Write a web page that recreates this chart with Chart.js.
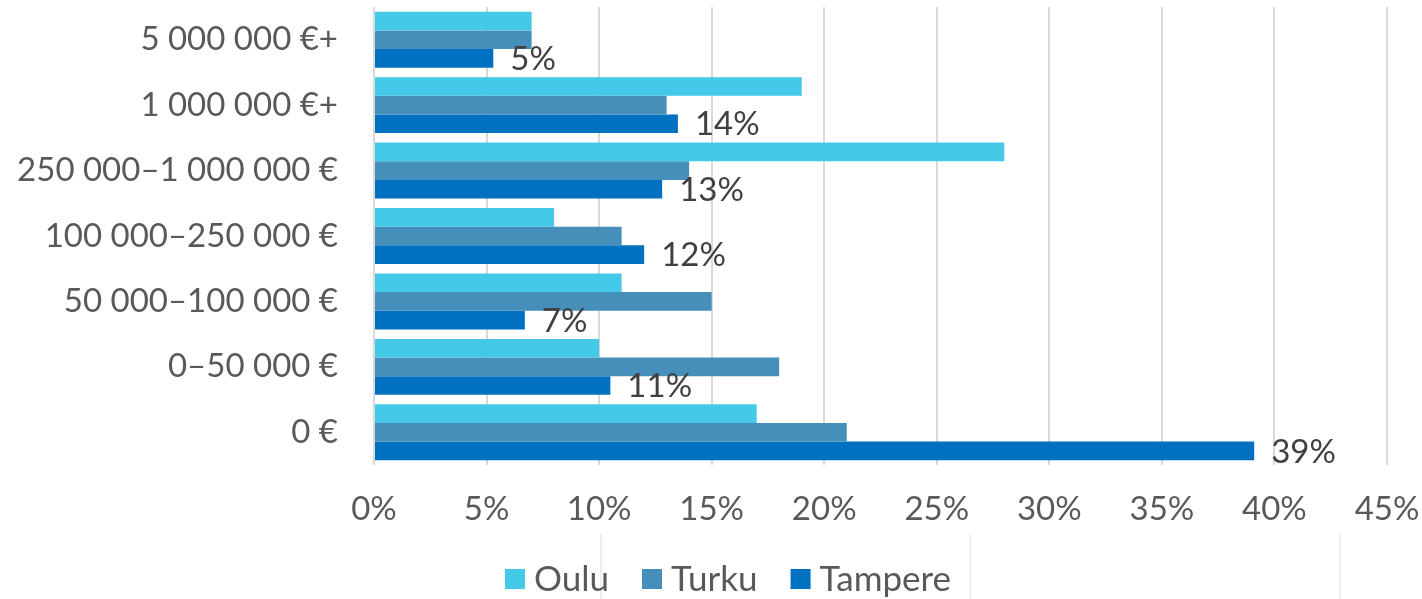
<!DOCTYPE html>
<html>
<head>
<meta charset="utf-8">
<script src="https://cdn.jsdelivr.net/npm/chart.js@4/dist/chart.umd.min.js"></script>
<style>
  html, body { margin: 0; padding: 0; background: #ffffff; }
  #wrap { width: 1422px; height: 599px; position: relative; }
</style>
</head>
<body>
<div id="wrap"><canvas id="c"></canvas></div>
<script>
const categories = ['5 000 000 €+', '1 000 000 €+', '250 000–1 000 000 €', '100 000–250 000 €', '50 000–100 000 €', '0–50 000 €', '0 €'];
const seriesNames = ['Oulu', 'Turku', 'Tampere'];
const oulu = [7, 19, 28, 8, 11, 10, 17];
const turku = [7, 13, 14, 11, 15, 18, 21];
const tampere = [5.3, 13.5, 12.8, 12.0, 6.7, 10.5, 39.1];
const tampereLabels = ['5%', '14%', '13%', '12%', '7%', '11%', '39%'];
const xTicks = [0, 5, 10, 15, 20, 25, 30, 35, 40, 45];

const FONT = 'Lato';
const TEXT = '#595959';

const dataLabelPlugin = {
  id: 'tampereLabels',
  afterDatasetsDraw(chart) {
    const ctx = chart.ctx;
    const meta = chart.getDatasetMeta(2);
    ctx.save();
    ctx.font = '33px ' + FONT;
    ctx.fillStyle = '#404040';
    ctx.textAlign = 'left';
    ctx.textBaseline = 'middle';
    meta.data.forEach((bar, i) => {
      ctx.fillText(tampereLabels[i], bar.x + 17, bar.y + 1);
    });
    ctx.restore();
  }
};

const legendPlugin = {
  id: 'customLegend',
  afterDraw(chart) {
    const ctx = chart.ctx;
    const ds = chart.data.datasets;
    ctx.save();
    // faint separator lines seen below the axis in the original image
    ctx.strokeStyle = '#e6eaee';
    ctx.lineWidth = 1.5;
    [601, 970.5, 1340].forEach(lx => {
      ctx.beginPath();
      ctx.moveTo(lx, 534);
      ctx.lineTo(lx, chart.height);
      ctx.stroke();
    });
    const box = 20, gapText = 9, gapItem = 33;
    ctx.font = '35px ' + FONT;
    ctx.textBaseline = 'middle';
    ctx.textAlign = 'left';
    const widths = ds.map(d => box + gapText + ctx.measureText(d.label).width);
    const total = widths.reduce((a, b) => a + b, 0) + gapItem * (ds.length - 1);
    const cy = chart.height - 20;
    let x = 728 - total / 2;
    ds.forEach((d, i) => {
      ctx.fillStyle = d.backgroundColor;
      ctx.fillRect(x, cy - box / 2, box, box);
      ctx.fillStyle = TEXT;
      ctx.fillText(d.label, x + box + gapText, cy + 1);
      x += widths[i] + gapItem;
    });
    ctx.restore();
  }
};

new Chart(document.getElementById('c'), {
  type: 'bar',
  data: {
    labels: categories,
    datasets: [
      { label: seriesNames[0], data: oulu, backgroundColor: '#44C9E8' },
      { label: seriesNames[1], data: turku, backgroundColor: '#468FBA' },
      { label: seriesNames[2], data: tampere, backgroundColor: '#0070C0' }
    ]
  },
  options: {
    indexAxis: 'y',
    responsive: true,
    maintainAspectRatio: false,
    animation: false,
    layout: { padding: { top: 7, right: 35, bottom: 43, left: 0 } },
    datasets: { bar: { categoryPercentage: 0.855, barPercentage: 1.0 } },
    scales: {
      x: {
        min: 0, max: 45,
        afterBuildTicks(scale) { scale.ticks = xTicks.map(v => ({ value: v })); },
        ticks: {
          callback: v => v + '%',
          font: { family: FONT, size: 33 },
          color: TEXT,
          padding: 25,
          maxRotation: 0
        },
        grid: { color: '#d9d9d9', lineWidth: 2, drawTicks: false },
        border: { display: false },
        afterFit(scale) {
          scale.height = 91;
          scale.paddingLeft = 0; scale.paddingRight = 0;
        }
      },
      y: {
        ticks: {
          font: { family: FONT, size: 33 },
          color: TEXT,
          padding: 36
        },
        grid: { display: false, drawTicks: false },
        border: { display: false },
        afterFit(scale) {
          scale.width = 374;
          scale.paddingTop = 0; scale.paddingBottom = 0;
        }
      }
    },
    plugins: {
      legend: { display: false },
      tooltip: { enabled: false }
    }
  },
  plugins: [dataLabelPlugin, legendPlugin]
});
</script>
</body>
</html>
